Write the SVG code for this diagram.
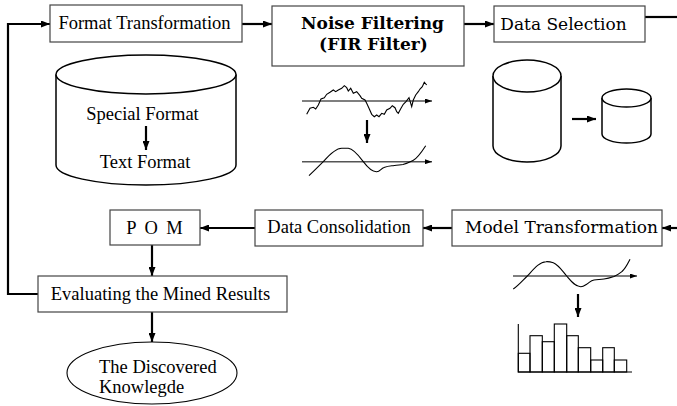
<svg xmlns="http://www.w3.org/2000/svg" width="677" height="406" viewBox="0 0 677 406">
<defs>
<marker id="ah" markerUnits="userSpaceOnUse" markerWidth="9" markerHeight="7" refX="9" refY="3.5" orient="auto">
<path d="M0,0 L9,3.5 L0,7 z" fill="#000"/>
</marker>
<marker id="ahs" markerUnits="userSpaceOnUse" markerWidth="7" markerHeight="5" refX="7" refY="2.5" orient="auto">
<path d="M0,0 L7,2.5 L0,5 z" fill="#000"/>
</marker>
<style>
.box{fill:#fff;stroke:#444;stroke-width:1.2}
.cyl{fill:#fff;stroke:#000;stroke-width:1.5}
.conn{fill:none;stroke:#000;stroke-width:2.2}
.thin{fill:none;stroke:#000;stroke-width:1.1}
.ax{fill:none;stroke:#555;stroke-width:1.6}
text{fill:#000}
.t{font-family:"Liberation Serif","Times New Roman",serif;font-size:18.5px}
.s{font-family:"DejaVu Serif",serif;font-size:17px}
.sb{font-family:"DejaVu Serif",serif;font-size:17px;font-weight:bold}
</style>
</defs>
<rect width="677" height="406" fill="#fff"/>

<g id="connectors">
<path class="conn" d="M38,294 H8 V24 H50" marker-end="url(#ah)"/>
<path class="conn" d="M242,24 H272" marker-end="url(#ah)"/>
<path class="conn" d="M464,24 H494" marker-end="url(#ah)"/>
<path class="conn" d="M645,17 H677"/>
<path class="conn" d="M677,228 H662" marker-end="url(#ah)"/>
<path class="conn" d="M452,228 H423" marker-end="url(#ah)"/>
<path class="conn" d="M255,228 H200" marker-end="url(#ah)"/>
<path class="conn" d="M152,245 V276" marker-end="url(#ah)"/>
<path class="conn" d="M152,312 V342" marker-end="url(#ah)"/>
</g>

<g id="format-transformation">
<rect class="box" x="50" y="5" width="192" height="37"/>
<text class="t" x="144.5" y="29" text-anchor="middle">Format Transformation</text>
</g>

<g id="noise-filtering">
<rect class="box" x="272" y="6" width="192" height="60"/>
<text class="sb" x="372.5" y="29" text-anchor="middle">Noise Filtering</text>
<text class="sb" x="373.5" y="50" text-anchor="middle">(FIR Filter)</text>
</g>

<g id="data-selection">
<rect class="box" x="494" y="6" width="151" height="36"/>
<text class="s" x="563.5" y="30" text-anchor="middle">Data Selection</text>
</g>

<g id="format-cylinder">
<path class="cyl" d="M56,74.5 V165 A90,20 0 0 0 236,165 V74.5"/>
<ellipse class="cyl" cx="146" cy="74.5" rx="90" ry="19.5"/>
<text class="t" x="142.5" y="120" text-anchor="middle">Special Format</text>
<path class="conn" d="M146,126 V150" marker-end="url(#ah)"/>
<text class="t" x="145" y="168" text-anchor="middle">Text Format</text>
</g>

<g id="noise-illustration">
<path class="ax" d="M302,101 H432" marker-end="url(#ahs)"/>
<path class="thin" d="M306.7,114.3 L310,108.3 L313.3,107.3 L315.7,109 L318.3,105 L321,99 L324.3,97.7 L326.7,94.3 L330,92.3 L333.3,90 L335.7,91.7 L338.3,90 L341.7,88.3 L344.3,85.7 L346.7,87.7 L348.3,91 L350.7,88.3 L353.3,93.3 L356.7,91.7 L360,95.7 L361.7,98.3 L365,100 L366.7,103.3 L369,108.3 L371.7,114.3 L374.3,116.7 L376.7,115 L379,116.7 L381.7,113.3 L384.3,114.3 L386.7,110 L390,108.3 L392.3,105.7 L395,107.7 L396.7,111.7 L398.3,113.3 L401,108.3 L403.3,104.3 L406,101.7 L409,97.7 L411.7,106.7 L413.3,100 L415.7,95 L418.3,91.7 L420,89 L422.3,86.7 L424.3,82.3 L426.7,85"/>
<path class="conn" d="M367,120 V143" marker-end="url(#ah)"/>
<path class="ax" d="M302,161.7 H432" marker-end="url(#ahs)"/>
<path class="thin" d="M309,175.7 C315,170 319,166 323.3,161.7 C330,154 336,148.3 341.7,148.3 C344,148.3 346,148.3 348.3,148.3 C354,149 359,156 363.3,161.7 C368,168 372,172 376.7,171.7 C380,171.5 381,168.5 384,167.5 C388,166 390,166 393,165.7 C397,165.3 400,165 403,164.5 C407,163.5 410,162 413,160.5 C417,158.5 421,153 425.7,145.7"/>
</g>

<g id="selection-cylinders">
<path class="cyl" d="M493,76 V146 A34,16 0 0 0 561,146 V76"/>
<ellipse class="cyl" cx="527" cy="76" rx="34" ry="16"/>
<path class="conn" d="M572,119 H596" marker-end="url(#ah)"/>
<path class="cyl" d="M602,98 V134 A24.5,9 0 0 0 651,134 V98"/>
<ellipse class="cyl" cx="626.5" cy="98" rx="24.5" ry="9"/>
</g>

<g id="model-transformation">
<rect class="box" x="452" y="210" width="210" height="36"/>
<text class="s" x="561.5" y="233" text-anchor="middle">Model Transformation</text>
</g>

<g id="data-consolidation">
<rect class="box" x="255" y="210" width="168" height="36"/>
<text class="t" x="339" y="233" text-anchor="middle">Data Consolidation</text>
</g>

<g id="pom">
<rect class="box" x="110" y="210" width="90" height="35"/>
<text class="t" x="155.5" y="234" text-anchor="middle" letter-spacing="2">P O M</text>
</g>

<g id="evaluating">
<rect class="box" x="38" y="276" width="249" height="36"/>
<text class="t" x="160.5" y="300" text-anchor="middle">Evaluating the Mined Results</text>
</g>

<g id="discovered-knowledge">
<ellipse class="thin" cx="152" cy="373" rx="85" ry="31" fill="#fff"/>
<text class="t" x="99" y="373">The Discovered</text>
<text class="t" x="99" y="393">Knowlegde</text>
</g>

<g id="model-illustration">
<path class="ax" d="M513,276 H637" marker-end="url(#ahs)"/>
<path class="thin" d="M513.3,289 C519,285 523,280 527.3,276 C533,270 539,262 546,261.7 C549,261.5 551,262 553.3,262.7 C559,265 563,272 566.7,276 C571,281 575,286.5 580.7,286.7 C584,286.8 585,285 587,284 C590,282 591,280.5 594,280 C598,279.5 600,279.5 604,279 C608,278.5 611,277.5 614,276.5 C618,275 620,273 622,271.5 C626,268 628,263 630,259.3"/>
<path class="conn" d="M578,294 V317" marker-end="url(#ah)"/>
<g class="thin">
<rect x="518.3" y="353.3" width="11.7" height="18.7"/>
<rect x="530" y="335.7" width="12.3" height="36.3"/>
<rect x="542.3" y="341.7" width="12" height="30.3"/>
<rect x="554.3" y="324" width="12.4" height="48"/>
<rect x="566.7" y="335.7" width="11.6" height="36.3"/>
<rect x="578.3" y="347.7" width="12.4" height="24.3"/>
<rect x="590.7" y="360" width="12" height="12"/>
<rect x="602.7" y="347.7" width="11.6" height="24.3"/>
<rect x="614.3" y="360" width="12.4" height="12"/>
</g>
<path class="thin" d="M518.3,324 V372 H632" stroke-width="1.4"/>
</g>
</svg>
